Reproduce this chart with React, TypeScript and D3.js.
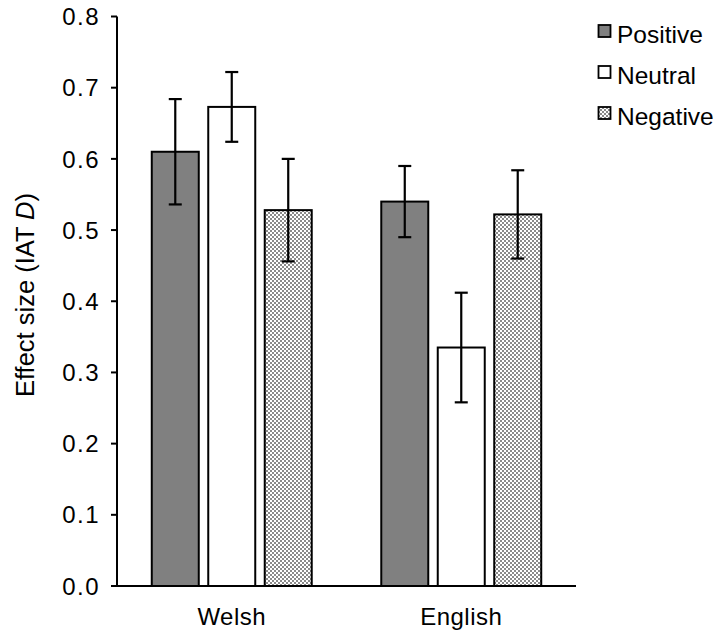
import { scaleBand, scaleLinear, format } from "d3";

const categories = ["Welsh", "English"];
const seriesNames = ["Positive", "Neutral", "Negative"];
const positive = [0.61, 0.54];
const positiveErr = [0.074, 0.05];
const neutral = [0.673, 0.335];
const neutralErr = [0.049, 0.077];
const negative = [0.528, 0.522];
const negativeErr = [0.072, 0.062];
const yTicks = [0, 0.1, 0.2, 0.3, 0.4, 0.5, 0.6, 0.7, 0.8];

const W = 720;
const H = 633;
const PLOT = { left: 117, right: 576, top: 16.5, bottom: 586 };
const FONT = "'Liberation Sans', Arial, Helvetica, sans-serif";

const values = [positive, neutral, negative];
const errors = [positiveErr, neutralErr, negativeErr];
const fills = ["#808080", "#ffffff", "url(#checker)"];

export default function App() {
  const x0 = scaleBand<string>()
    .domain(categories)
    .range([PLOT.left, PLOT.right])
    .paddingInner(0.303)
    .paddingOuter(0.1515);
  const x1 = scaleBand<string>()
    .domain(seriesNames)
    .range([0, x0.bandwidth()])
    .paddingInner(0.168)
    .paddingOuter(0);
  const y = scaleLinear().domain([0, 0.8]).range([PLOT.bottom, PLOT.top]);
  const fmt = format(".1f");
  const cap = 6.5;

  return (
    <svg
      width={W}
      height={H}
      style={{ position: "absolute", left: 0, top: 0, background: "#fff" }}
      fontFamily={FONT}
    >
      <defs>
        <pattern id="checker" width="4" height="4" patternUnits="userSpaceOnUse">
          <rect width="4" height="4" fill="#ffffff" />
          <rect width="2" height="2" fill="#8a8a8a" />
          <rect x="2" y="2" width="2" height="2" fill="#8a8a8a" />
        </pattern>
      </defs>
      <rect width={W} height={H} fill="#fff" />

      {/* bars */}
      {categories.map((c, ci) =>
        seriesNames.map((s, si) => {
          const bx = (x0(c) ?? 0) + (x1(s) ?? 0);
          const v = values[si][ci];
          return (
            <rect
              key={c + s}
              x={bx}
              y={y(v)}
              width={x1.bandwidth()}
              height={y(0) - y(v)}
              fill={fills[si]}
              stroke="#000"
              strokeWidth={2}
            />
          );
        })
      )}

      {/* error bars */}
      {categories.map((c, ci) =>
        seriesNames.map((s, si) => {
          const cx = (x0(c) ?? 0) + (x1(s) ?? 0) + x1.bandwidth() / 2;
          const v = values[si][ci];
          const e = errors[si][ci];
          return (
            <g key={"e" + c + s} stroke="#000" strokeWidth={2.2}>
              <line x1={cx} x2={cx} y1={y(v + e)} y2={y(v - e)} />
              <line x1={cx - cap} x2={cx + cap} y1={y(v + e)} y2={y(v + e)} />
              <line x1={cx - cap} x2={cx + cap} y1={y(v - e)} y2={y(v - e)} />
            </g>
          );
        })
      )}

      {/* y axis */}
      <line x1={PLOT.left} x2={PLOT.left} y1={y(0.8)} y2={y(0)} stroke="#000" strokeWidth={2} />
      {yTicks.map((t) => (
        <g key={t}>
          <line x1={PLOT.left - 6} x2={PLOT.left} y1={y(t)} y2={y(t)} stroke="#000" strokeWidth={2} />
          <text
            x={100}
            y={y(t)}
            dy="0.36em"
            textAnchor="end"
            fontSize={24}
            letterSpacing={1.5}
            fill="#000"
          >
            {fmt(t)}
          </text>
        </g>
      ))}

      {/* x axis */}
      <line x1={PLOT.left} x2={PLOT.right} y1={y(0)} y2={y(0)} stroke="#000" strokeWidth={2} />
      {categories.map((c) => (
        <text
          key={c}
          x={(x0(c) ?? 0) + x0.bandwidth() / 2}
          y={625}
          textAnchor="middle"
          fontSize={24}
          letterSpacing={0.5}
          fill="#000"
        >
          {c}
        </text>
      ))}

      {/* y label */}
      <text
        transform={`translate(33.5, 295) rotate(-90)`}
        textAnchor="middle"
        fontSize={25.5}
        fill="#000"
      >
        Effect size (IAT <tspan fontStyle="italic">D</tspan>)
      </text>

      {/* legend */}
      {seriesNames.map((s, i) => (
        <g key={s} transform={`translate(598, ${25 + i * 41})`}>
          <rect x={0.5} y={0} width={12} height={12} fill={fills[i]} stroke="#000" strokeWidth={1.8} />
          <text x={19} y={18} fontSize={24.5} fill="#000">
            {s}
          </text>
        </g>
      ))}
    </svg>
  );
}
